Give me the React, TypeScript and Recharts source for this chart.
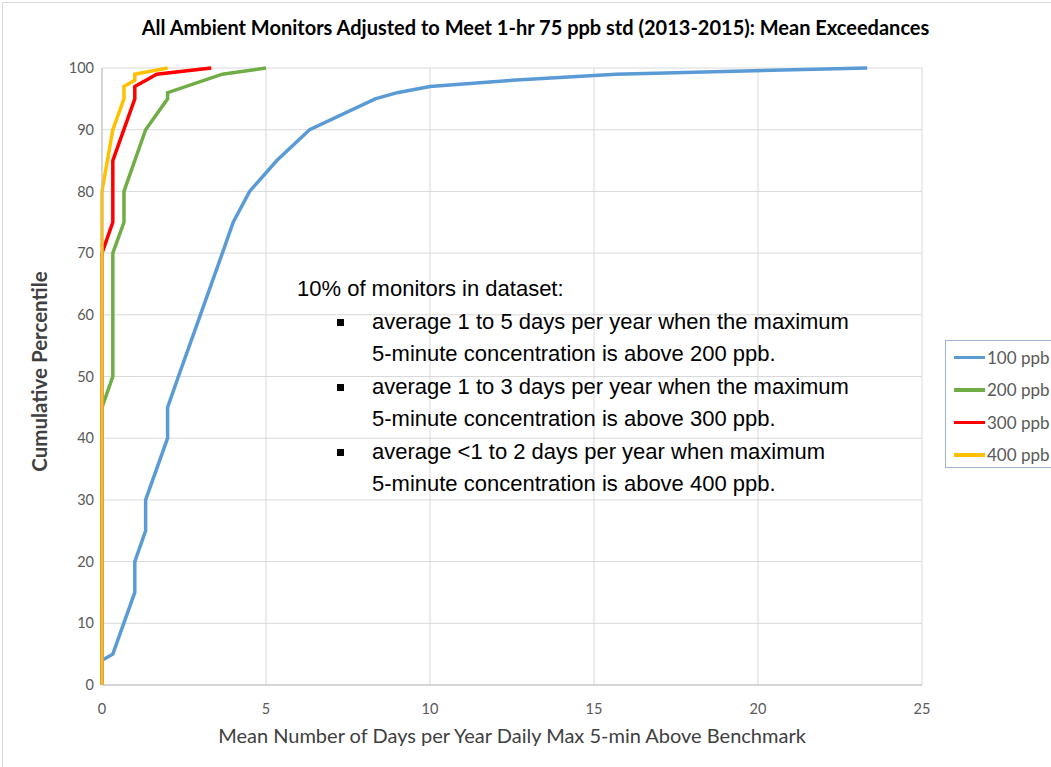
import { LineChart, Line, XAxis, YAxis, CartesianGrid } from 'recharts';

// mean exceedance days per year (x) vs cumulative percentile of monitors (y)
const days100 = [0, 0.33, 1, 1, 1.33, 1.33, 2, 2, 2.33, 3, 3.67, 4, 4.5, 5.33, 6.33, 8.33, 9, 10, 12.5, 15.67, 23.33];
const pct100 = [4, 5, 15, 20, 25, 30, 40, 45, 50, 60, 70, 75, 80, 85, 90, 95, 96, 97, 98, 99, 100];

const days200 = [0, 0, 0.33, 0.33, 0.67, 0.67, 1.33, 2, 2, 3.67, 5];
const pct200 = [0, 45, 50, 70, 75, 80, 90, 95, 96, 99, 100];

const days300 = [0, 0, 0.33, 0.33, 1, 1, 1.67, 3.33];
const pct300 = [0, 70, 75, 85, 95, 97, 99, 100];

const days400 = [0, 0, 0.33, 0.67, 0.67, 1, 1, 2];
const pct400 = [0, 80, 90, 95, 97, 98, 99, 100];

const seriesNames = ['100 ppb', '200 ppb', '300 ppb', '400 ppb'];
const seriesColors = ['#5B9BD5', '#70AD47', '#FF0000', '#FFC000'];
const xTicks = [0, 5, 10, 15, 20, 25];
const yTicks = [0, 10, 20, 30, 40, 50, 60, 70, 80, 90, 100];

const noteTitle = '10% of monitors in dataset:';
const noteBullets = [
  ['average 1 to 5 days per year when the maximum', '5-minute concentration is above 200 ppb.'],
  ['average 1 to 3 days per year when the maximum', '5-minute concentration is above 300 ppb.'],
  ['average <1 to 2 days per year when maximum', '5-minute concentration is above 400 ppb.'],
];

const toPoints = (xs: number[], ys: number[]) => xs.map((x, i) => ({ x, y: ys[i] }));
const series = [
  toPoints(days100, pct100),
  toPoints(days200, pct200),
  toPoints(days300, pct300),
  toPoints(days400, pct400),
];

const font = 'Lato, "Noto Sans", sans-serif';
const noteFont = '"Liberation Sans", Arial, sans-serif';

export default function App() {
  return (
    <div style={{ position: 'relative', width: 1051, height: 767, overflow: 'hidden', background: '#fff', fontFamily: font }}>
      <style>{'body{margin:0}'}</style>
      <div style={{ position: 'absolute', left: 2, top: 2, width: 1080, height: 800, border: '1px solid #d9d9d9' }} />
      <div style={{ position: 'absolute', top: 15, left: 0, width: 1071, textAlign: 'center', fontSize: 20, fontWeight: 700, color: '#000' }}>
        All Ambient Monitors Adjusted to Meet 1-hr 75 ppb std (2013-2015): Mean Exceedances
      </div>
      <LineChart width={1051} height={767} margin={{ top: 68, right: 129, bottom: 52, left: 0 }}>
        <CartesianGrid stroke="#d9d9d9" />
        <XAxis
          type="number"
          dataKey="x"
          domain={[0, 25]}
          ticks={xTicks}
          height={30}
          tickLine={false}
          tickMargin={13}
          axisLine={{ stroke: '#bfbfbf' }}
          tick={{ fill: '#595959', fontSize: 14.5, fontFamily: font }}
          label={{ value: 'Mean Number of Days per Year Daily Max 5-min Above Benchmark', position: 'bottom', offset: 14, fill: '#404040', fontSize: 20, fontFamily: font }}
        />
        <YAxis
          type="number"
          dataKey="y"
          domain={[0, 100]}
          ticks={yTicks}
          width={102}
          tickLine={false}
          axisLine={{ stroke: '#bfbfbf' }}
          tick={{ fill: '#595959', fontSize: 14.5, fontFamily: font }}
          label={{ value: 'Cumulative Percentile', angle: -90, position: 'insideLeft', offset: 40, dy: -5, fill: '#404040', fontSize: 20.5, fontWeight: 700, fontFamily: font, style: { textAnchor: 'middle' } }}
        />
        {series.map((data, i) => (
          <Line
            key={seriesNames[i]}
            data={data}
            dataKey="y"
            name={seriesNames[i]}
            type="linear"
            stroke={seriesColors[i]}
            strokeWidth={3.5}
            dot={false}
            isAnimationActive={false}
          />
        ))}
      </LineChart>
      <div style={{ position: 'absolute', left: 297, top: 273, fontFamily: noteFont, fontSize: 22, color: '#000', lineHeight: '32.5px' }}>
        <div>{noteTitle}</div>
        {noteBullets.map((b) => (
          <div key={b[0]} style={{ position: 'relative', paddingLeft: 75 }}>
            <span style={{ position: 'absolute', left: 40, top: 13, width: 7, height: 7, background: '#000' }} />
            <div>{b[0]}</div>
            <div>{b[1]}</div>
          </div>
        ))}
      </div>
      <div style={{ position: 'absolute', left: 945, top: 340, width: 120, height: 128, border: '1px solid #9db3d1', boxSizing: 'border-box', paddingTop: 0 }}>
        {seriesNames.map((n, i) => (
          <div key={n} style={{ display: 'flex', alignItems: 'center', height: 32.5, paddingLeft: 8 }}>
            <span style={{ width: 31, height: 3.5, background: seriesColors[i], display: 'inline-block' }} />
            <span style={{ fontSize: 17, color: '#595959', marginLeft: 2 }}>{n}</span>
          </div>
        ))}
      </div>
    </div>
  );
}
